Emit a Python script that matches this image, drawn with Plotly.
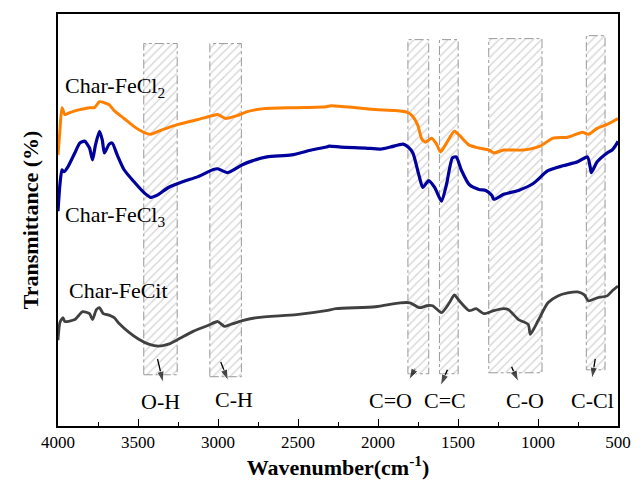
import plotly.graph_objects as go

# ---------------- data ----------------
fecl2_wn = [4000, 3988, 3975, 3957, 3926, 3864, 3803, 3772, 3741, 3710, 3680, 3649, 3587, 3526, 3464, 3421,
            3341, 3248, 3125, 3033, 3002, 2952, 2879, 2817, 2712, 2509, 2324, 2293, 2139, 2016, 1893, 1812,
            1782, 1751, 1726, 1702, 1665, 1634, 1609, 1572, 1523, 1492, 1430, 1369, 1307, 1276, 1215, 1091,
            987, 906, 814, 722, 685, 630, 568, 500]
fecl2_t = [275, 300, 323, 316, 318, 321, 323, 323, 329, 328, 326, 320, 312, 304, 298, 296,
           301, 306, 311, 315, 316, 312, 315, 319, 322, 323, 324, 325, 323, 321, 320, 318,
           314, 305, 291, 288, 292, 286, 278, 287, 299, 295, 285, 282, 280, 277, 280, 280,
           284, 292, 293, 298, 296, 302, 306, 312]

fecl3_wn = [4000, 3988, 3975, 3963, 3938, 3895, 3864, 3834, 3803, 3784, 3766, 3741, 3723, 3710, 3680, 3661,
            3630, 3587, 3526, 3464, 3421, 3371, 3310, 3217, 3125, 3033, 3002, 2940, 2848, 2786, 2694, 2540,
            2416, 2324, 2305, 2232, 2077, 1985, 1923, 1843, 1812, 1782, 1745, 1720, 1683, 1646, 1603, 1572,
            1535, 1511, 1480, 1430, 1369, 1326, 1289, 1276, 1215, 1122, 1030, 938, 845, 752, 691, 673,
            667, 630, 568, 537, 506, 500]
fecl3_t = [218, 245, 260, 258, 263, 277, 287, 289, 282, 270, 285, 299, 290, 277, 286, 287,
           275, 260, 248, 237, 232, 235, 242, 248, 253, 260, 261, 257, 265, 269, 273, 275,
           280, 283, 284, 283, 282, 281, 283, 286, 283, 277, 255, 242, 249, 242, 228, 245,
           272, 273, 260, 245, 240, 239, 234, 230, 235, 239, 246, 259, 264, 268, 273, 262,
           257, 268, 277, 280, 287, 289]

fecit_wn = [4000, 3988, 3969, 3957, 3895, 3846, 3803, 3784, 3760, 3741, 3717, 3692, 3649, 3618, 3556, 3495,
            3433, 3371, 3310, 3248, 3156, 3063, 3002, 2959, 2922, 2848, 2755, 2509, 2324, 2262, 2016, 1862,
            1800, 1739, 1696, 1659, 1603, 1554, 1523, 1492, 1430, 1387, 1338, 1276, 1215, 1184, 1122, 1061,
            1048, 999, 938, 876, 814, 752, 710, 685, 630, 568, 537, 500]
fecit_t = [87, 105, 110, 106, 108, 116, 114, 108, 118, 120, 114, 113, 110, 104, 95, 88,
           83, 81, 83, 88, 96, 102, 106, 101, 103, 107, 110, 113, 117, 119, 121, 125,
           125, 120, 122, 122, 115, 125, 133, 127, 117, 119, 114, 117, 119, 118, 108, 103,
           93, 107, 125, 132, 135, 136, 133, 127, 130, 132, 137, 142]

band_names = ["O-H", "C-H", "C=O", "C=C", "C-O", "C-Cl"]
band_hi = [3464, 3051, 1813, 1616, 1308, 698]
band_lo = [3255, 2854, 1683, 1499, 975, 581]
band_bottom = [52, 50, 53, 53, 54, 57]
band_top = [388, 388, 392, 392, 393, 396]

label_wn = [3359, 2897, 1923, 1584, 1079, 660]
label_t = [25, 27, 26, 26, 26, 26]
arrow_tail_wn = [3378, 2983, 1769, 1566, 1165, 642]
arrow_tail_t = [68, 65, 58, 57, 60, 68]
arrow_head_wn = [3343, 2936, 1806, 1609, 1122, 663]
arrow_head_t = [44, 46, 47, 41, 45, 48]

x_ticks = [4000, 3500, 3000, 2500, 2000, 1500, 1000, 500]

FONT = "Liberation Serif"

fig = go.Figure()

# hatched bands (closed polygons with a hatch fill pattern and dash-dot outline)
for hi, lo, b, t in zip(band_hi, band_lo, band_bottom, band_top):
    fig.add_trace(go.Scatter(
        x=[hi, lo, lo, hi, hi], y=[b, b, t, t, b], mode="lines", fill="toself",
        fillcolor="rgba(255,255,255,0)", line=dict(width=1, color="#999999", dash="dashdot"),
        fillpattern=dict(shape="/", fgcolor="#a9a9a9", bgcolor="rgba(255,255,255,0)",
                         size=6, solidity=0.22, fillmode="overlay"),
        showlegend=False, hoverinfo="skip"))

fig.add_trace(go.Scatter(x=fecl2_wn, y=fecl2_t, mode="lines", line=dict(color="#FF8000", width=3, shape="spline", smoothing=0.6), showlegend=False))
fig.add_trace(go.Scatter(x=fecl3_wn, y=fecl3_t, mode="lines", line=dict(color="#00009C", width=3.2, shape="spline", smoothing=0.6), showlegend=False))
fig.add_trace(go.Scatter(x=fecit_wn, y=fecit_t, mode="lines", line=dict(color="#404040", width=2.8, shape="spline", smoothing=0.6), showlegend=False))

# arrows (line + arrowhead marker)
for tx, ty, hx, hy in zip(arrow_tail_wn, arrow_tail_t, arrow_head_wn, arrow_head_t):
    fig.add_trace(go.Scatter(x=[tx, hx], y=[ty, hy], mode="lines+markers",
                             line=dict(color="black", width=1.3),
                             marker=dict(symbol=["circle", "arrow"], size=[0, 12], color="black", angleref="previous"),
                             showlegend=False, hoverinfo="skip"))

# series labels
series_labels = [("Char-FeCl<sub>2</sub>", 3970, 344), ("Char-FeCl<sub>3</sub>", 3970, 213), ("Char-FeCit", 3945, 137)]
for txt, xv, yv in series_labels:
    fig.add_annotation(x=xv, y=yv, text=txt, showarrow=False, xanchor="left", yanchor="middle",
                       font=dict(family=FONT, size=22, color="black"))

# band labels
for name, lx, ly in zip(band_names, label_wn, label_t):
    fig.add_annotation(x=lx, y=ly, text=name, showarrow=False, xanchor="center", yanchor="middle",
                       font=dict(family=FONT, size=22, color="black"))

fig.update_xaxes(range=[4000, 500], tickvals=x_ticks, ticktext=[str(v) for v in x_ticks],
                 ticks="inside", ticklen=7, tickwidth=1.3, tickcolor="black",
                 minor=dict(dtick=250, ticks="inside", ticklen=4, tickwidth=1.2, tickcolor="black"),
                 showline=True, linecolor="black", linewidth=1.5, mirror=True, showgrid=False, zeroline=False,
                 tickfont=dict(family=FONT, size=17, color="black"),
                 title=dict(text="<b>Wavenumber(cm<sup>-1</sup>)</b>", font=dict(family=FONT, size=22, color="black"), standoff=6))
fig.update_yaxes(range=[0, 418], showticklabels=False, ticks="", showline=True, linecolor="black", linewidth=1.5,
                 mirror=True, showgrid=False, zeroline=False,
                 title=dict(text="<b>Transmittance (%)</b>", font=dict(family=FONT, size=22, color="black"), standoff=12))

fig.update_layout(width=643, height=486, margin=dict(l=58, r=16, t=12, b=56),
                  plot_bgcolor="white", paper_bgcolor="white")

fig.write_html("out.html")
